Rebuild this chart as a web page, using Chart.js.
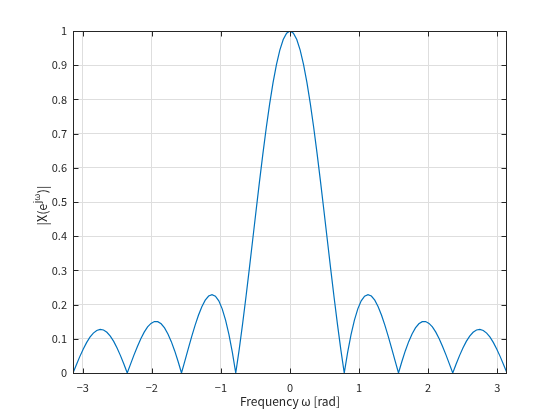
<!DOCTYPE html>
<html lang="en">
<head>
<meta charset="UTF-8">
<title>Magnitude response</title>
<script src="https://cdn.jsdelivr.net/npm/chart.js"></script>
<style>
  html, body { margin: 0; padding: 0; background: #fff; }
  canvas { display: block; }
</style>
</head>
<body>
<canvas id="chart" width="560" height="420"></canvas>
<script>
// frequency samples (rad) and |X(e^jw)|
const omega = [
  -3.1416, -3.0925, -3.0434, -2.9943, -2.9452, -2.8962, -2.8471, -2.7980,
  -2.7489, -2.6998, -2.6507, -2.6016, -2.5525, -2.5035, -2.4544, -2.4053,
  -2.3562, -2.3071, -2.2580, -2.2089, -2.1598, -2.1108, -2.0617, -2.0126,
  -1.9635, -1.9144, -1.8653, -1.8162, -1.7671, -1.7181, -1.6690, -1.6199,
  -1.5708, -1.5217, -1.4726, -1.4235, -1.3744, -1.3254, -1.2763, -1.2272,
  -1.1781, -1.1290, -1.0799, -1.0308, -0.9817, -0.9327, -0.8836, -0.8345,
  -0.7854, -0.7363, -0.6872, -0.6381, -0.5890, -0.5400, -0.4909, -0.4418,
  -0.3927, -0.3436, -0.2945, -0.2454, -0.1963, -0.1473, -0.0982, -0.0491,
  0,
  0.0491, 0.0982, 0.1473, 0.1963, 0.2454, 0.2945, 0.3436, 0.3927,
  0.4418, 0.4909, 0.5400, 0.5890, 0.6381, 0.6872, 0.7363, 0.7854,
  0.8345, 0.8836, 0.9327, 0.9817, 1.0308, 1.0799, 1.1290, 1.1781,
  1.2272, 1.2763, 1.3254, 1.3744, 1.4235, 1.4726, 1.5217, 1.5708,
  1.6199, 1.6690, 1.7181, 1.7671, 1.8162, 1.8653, 1.9144, 1.9635,
  2.0126, 2.0617, 2.1108, 2.1598, 2.2089, 2.2580, 2.3071, 2.3562,
  2.4053, 2.4544, 2.5035, 2.5525, 2.6016, 2.6507, 2.6998, 2.7489,
  2.7980, 2.8471, 2.8962, 2.9452, 2.9943, 3.0434, 3.0925, 3.1416
];
const magnitude = [
  0, 0.02439, 0.04789, 0.06963, 0.08882, 0.10472, 0.11675, 0.12443,
  0.12745, 0.12565, 0.11905, 0.10784, 0.09237, 0.07314, 0.05080, 0.02614,
  0, 0.02667, 0.05292, 0.07775, 0.10022, 0.11945, 0.13464, 0.14511,
  0.15034, 0.14995, 0.14378, 0.13184, 0.11434, 0.09171, 0.06456, 0.03367,
  0, 0.03537, 0.07123, 0.10632, 0.13933, 0.16894, 0.19387, 0.21292,
  0.22499, 0.22916, 0.22463, 0.21086, 0.18750, 0.15446, 0.11188, 0.06018,
  0, 0.06776, 0.14199, 0.22139, 0.30449, 0.38969, 0.47529, 0.55955,
  0.64073, 0.71711, 0.78706, 0.84906, 0.90177, 0.94401, 0.97487, 0.99370,
  1,
  0.99370, 0.97487, 0.94401, 0.90177, 0.84906, 0.78706, 0.71711, 0.64073,
  0.55955, 0.47529, 0.38969, 0.30449, 0.22139, 0.14199, 0.06776, 0,
  0.06018, 0.11188, 0.15446, 0.18750, 0.21086, 0.22463, 0.22916, 0.22499,
  0.21292, 0.19387, 0.16894, 0.13933, 0.10632, 0.07123, 0.03537, 0,
  0.03367, 0.06456, 0.09171, 0.11434, 0.13184, 0.14378, 0.14995, 0.15034,
  0.14511, 0.13464, 0.11945, 0.10022, 0.07775, 0.05292, 0.02667, 0,
  0.02614, 0.05080, 0.07314, 0.09237, 0.10784, 0.11905, 0.12565, 0.12745,
  0.12443, 0.11675, 0.10472, 0.08882, 0.06963, 0.04789, 0.02439, 0
];
const xTicks = [-3, -2, -1, 0, 1, 2, 3];
const xTickLabels = ['−3', '−2', '−1', '0', '1', '2', '3'];
const yTicks = [0, 0.1, 0.2, 0.3, 0.4, 0.5, 0.6, 0.7, 0.8, 0.9, 1];
const yTickLabels = ['0', '0.1', '0.2', '0.3', '0.4', '0.5', '0.6', '0.7', '0.8', '0.9', '1'];
const xTitle = 'Frequency ω [rad]';
const yTitle = ['|X(e', 'jω', ')|'];  // middle part is superscript

const FONT = '"Noto Sans CJK JP", "Noto Sans", sans-serif';
const INK = '#262626';

// box, inward ticks on all sides, axis titles
const frame = {
  id: 'frame',
  afterDraw(chart) {
    const { ctx, chartArea: a, scales: { x, y } } = chart;
    const L = Math.round(a.left) + 0.5, R = Math.round(a.right) - 0.5;
    const T = Math.round(a.top) + 0.5, B = Math.round(a.bottom) + 0.5;
    ctx.save();
    ctx.strokeStyle = INK;
    ctx.lineWidth = 1;
    ctx.strokeRect(L, T, R - L, B - T);
    ctx.beginPath();
    xTicks.forEach(v => {
      const px = Math.round(x.getPixelForValue(v)) + 0.5;
      ctx.moveTo(px, B); ctx.lineTo(px, B - 5);
      ctx.moveTo(px, T); ctx.lineTo(px, T + 5);
    });
    yTicks.forEach(v => {
      const py = Math.round(y.getPixelForValue(v)) + 0.5;
      ctx.moveTo(L, py); ctx.lineTo(L + 5, py);
      ctx.moveTo(R, py); ctx.lineTo(R - 5, py);
    });
    ctx.stroke();

    ctx.fillStyle = INK;
    ctx.textBaseline = 'middle';
    ctx.textAlign = 'center';
    ctx.font = '12px ' + FONT;
    ctx.fillText(xTitle, (a.left + a.right) / 2, 401);

    // rotated y title with superscript
    ctx.translate(42, 206);
    ctx.rotate(-Math.PI / 2);
    ctx.textAlign = 'left';
    ctx.font = '12.5px ' + FONT;
    const w0 = ctx.measureText(yTitle[0]).width;
    const w2 = ctx.measureText(yTitle[2]).width;
    ctx.font = '9px ' + FONT;
    const w1 = ctx.measureText(yTitle[1]).width;
    let cx = -(w0 + w1 + w2) / 2;
    ctx.font = '12.5px ' + FONT;
    ctx.fillText(yTitle[0], cx, 0);
    cx += w0;
    ctx.font = '9px ' + FONT;
    ctx.fillText(yTitle[1], cx + 0.5, -5);
    cx += w1 + 1;
    ctx.font = '12.5px ' + FONT;
    ctx.fillText(yTitle[2], cx, 0);
    ctx.restore();
  }
};

new Chart(document.getElementById('chart'), {
  type: 'line',
  data: {
    datasets: [{
      data: omega.map((w, i) => ({ x: w, y: magnitude[i] })),
      borderColor: '#0072BD',
      borderWidth: 1.2,
      pointRadius: 0,
      fill: false,
      tension: 0
    }]
  },
  options: {
    responsive: false,
    animation: false,
    layout: { padding: { left: 0, top: 31, right: 53, bottom: 0 } },
    plugins: { legend: { display: false }, tooltip: { enabled: false } },
    scales: {
      x: {
        type: 'linear',
        min: -Math.PI,
        max: Math.PI,
        afterFit: s => { s.height = 47; },
        afterBuildTicks: s => { s.ticks = xTicks.map(v => ({ value: v })); },
        grid: { color: '#dedede', drawTicks: false },
        border: { display: false },
        ticks: {
          padding: 8,
          color: INK,
          font: { family: FONT, size: 11 },
          maxRotation: 0,
          callback: (v) => xTickLabels[xTicks.indexOf(v)]
        }
      },
      y: {
        min: 0,
        max: 1,
        afterFit: s => { s.width = 73; },
        afterBuildTicks: s => { s.ticks = yTicks.map(v => ({ value: v })); },
        grid: { color: '#dedede', drawTicks: false },
        border: { display: false },
        ticks: {
          padding: 6,
          color: INK,
          font: { family: FONT, size: 11 },
          callback: (v) => yTickLabels[yTicks.indexOf(v)]
        }
      }
    }
  },
  plugins: [frame]
});
</script>
</body>
</html>
